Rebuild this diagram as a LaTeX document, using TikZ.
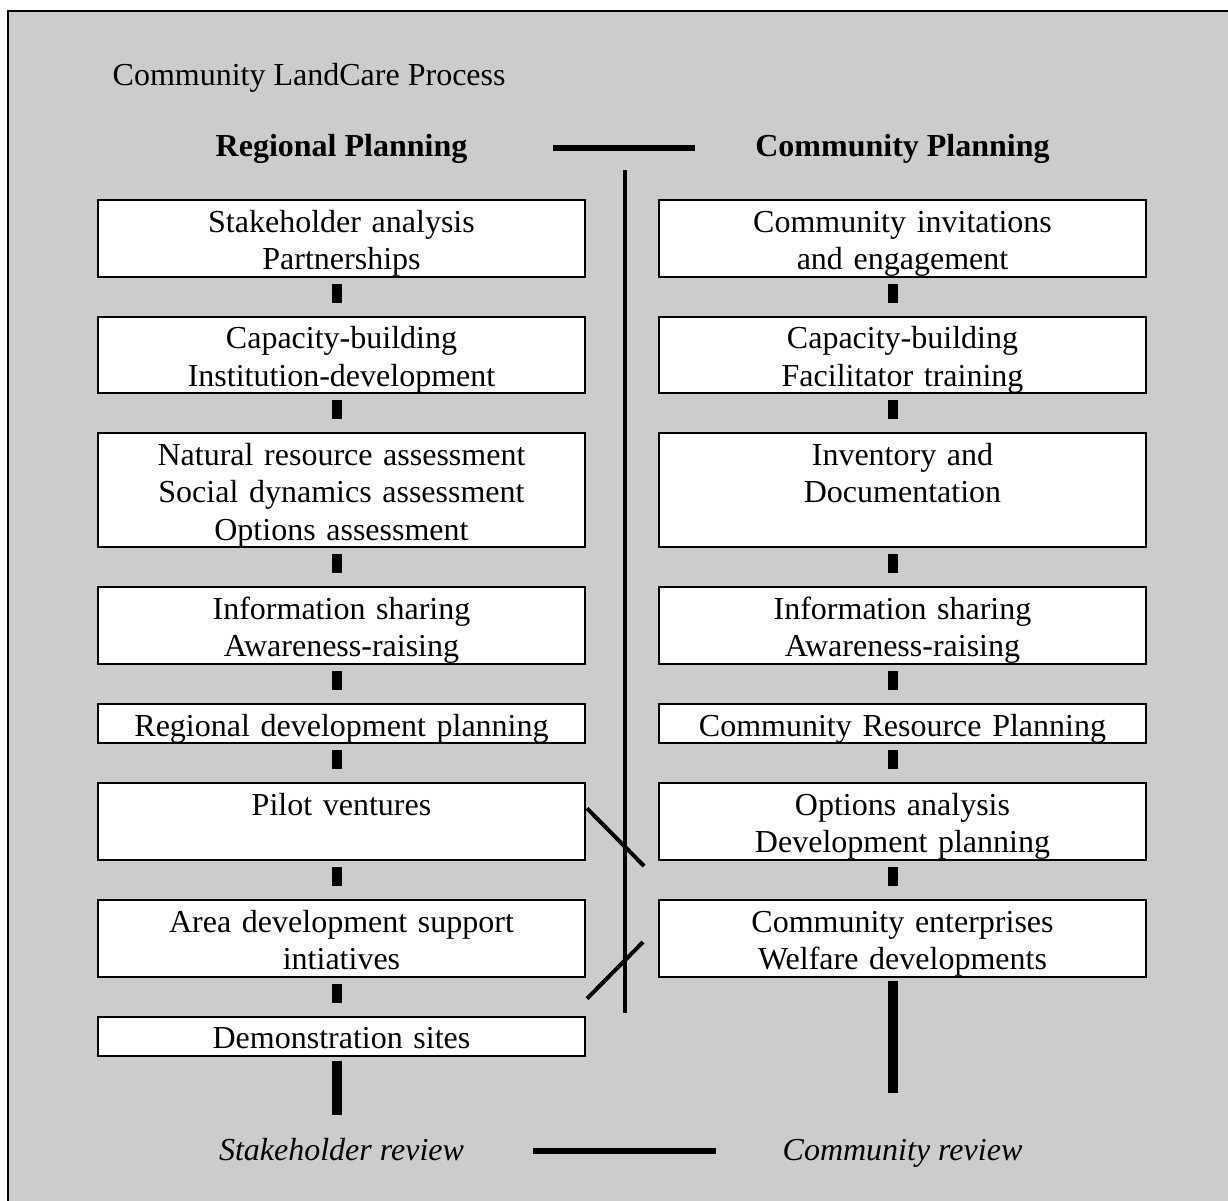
\documentclass[tikz,border=0pt]{standalone}
\usepackage{fontspec}
\setmainfont{Liberation Serif}
\usetikzlibrary{positioning, calc}

\definecolor{panelgray}{HTML}{CCCCCC}

\tikzset{
  stage/.style={draw, line width=1.5pt, fill=white, align=center, outer sep=0pt,
    text width=356pt, minimum width=365.25pt, inner xsep=0pt, inner ysep=0pt,
    font=\fontsize{24}{28}\selectfont,
    execute at begin node=\rule{0pt}{24pt}, execute at end node=\rule[-5.5pt]{0pt}{5.5pt}},
  heading/.style={anchor=base, font=\fontsize{24}{28}\selectfont\bfseries},
  review/.style={anchor=base, font=\fontsize{24}{28}\selectfont\itshape},
  stub/.style={line width=7.5pt},
  spine/.style={line width=3pt},
  slash/.style={line width=3pt},
  divider/.style={line width=4pt}
}

\begin{document}
\begin{tikzpicture}[x=0.75pt, y=-0.75pt, node distance=30pt]
  \useasboundingbox (0,0) rectangle (1228,1200);
  \clip (0,0) rectangle (1228,1200);
  \draw[line width=1.5pt, fill=panelgray] (8,11) rectangle (1250,1230);

  \node[anchor=base west, font=\fontsize{24}{28}\selectfont] (title) at (108,85) {Community LandCare Process};
  \node[heading] (regional) at (341.5,156) {Regional Planning};
  \node[heading] (community) at (902.5,156) {Community Planning};

  % regional side
  \node[stage, anchor=north] (l1) at (341.5,200) {Stakeholder analysis\\Partnerships};
  \node[stage] (l2) [below=of l1] {Capacity-building\\Institution-development};
  \node[stage] (l3) [below=of l2] {Natural resource assessment\\Social dynamics assessment\\Options assessment};
  \node[stage] (l4) [below=of l3] {Information sharing\\Awareness-raising};
  \node[stage] (l5) [below=of l4] {Regional development planning};
  \node[stage] (l6) [below=of l5] {Pilot ventures\\};
  \node[stage] (l7) [below=of l6] {Area development support\\intiatives};
  \node[stage] (l8) [below=of l7] {Demonstration sites};

  % community side
  \node[stage] (r1) [right=55.5pt of l1] {Community invitations\\and engagement};
  \node[stage] (r2) [below=of r1] {Capacity-building\\Facilitator training};
  \node[stage] (r3) [below=of r2] {Inventory and\\Documentation\\};
  \node[stage] (r4) [below=of r3] {Information sharing\\Awareness-raising};
  \node[stage] (r5) [below=of r4] {Community Resource Planning};
  \node[stage] (r6) [below=of r5] {Options analysis\\Development planning};
  \node[stage] (r7) [below=of r6] {Community enterprises\\Welfare developments};

  \node[review] (srev) at (341.5,1160) {Stakeholder review};
  \node[review] (crev) at (902.5,1160) {Community review};

  \foreach \a/\b in {l1/l2, l2/l3, l3/l4, l4/l5, l5/l6, l6/l7, l7/l8}
    \draw[stub] ($(\a.south)+(-4.5,7)$) -- ($(\b.north)+(-4.5,-14)$);
  \foreach \a/\b in {r1/r2, r2/r3, r3/r4, r4/r5, r5/r6, r6/r7}
    \draw[stub] ($(\a.south)+(-9.5,7)$) -- ($(\b.north)+(-9.5,-14)$);

  \coordinate (lfoot) at (337,1115);
  \coordinate (rfoot) at (893,1093);
  \draw[stub] ($(l8.south -| lfoot)+(0,5)$) -- (lfoot);
  \draw[stub] ($(r7.south -| rfoot)+(0,4)$) -- (rfoot);

  \coordinate (top) at (624.5,170);
  \coordinate (bottom) at (624.5,1013);
  \draw[spine] (top) -- (bottom);
  \draw[slash] ($(l6.north east)+(2,25)$) -- ($(r6.south west)+(-15,6)$);
  \draw[slash] ($(l7.south east)+(2,22)$) -- ($(r7.north west)+(-16,42)$);

  \draw[divider] ($(regional.base east)+(81,-8)$) -- ($(community.base west)+(-56,-8)$);
  \draw[divider, line width=4.5pt] ($(srev.base east)+(64,-9)$) -- ($(crev.base west)+(-62,-9)$);
\end{tikzpicture}
\end{document}
